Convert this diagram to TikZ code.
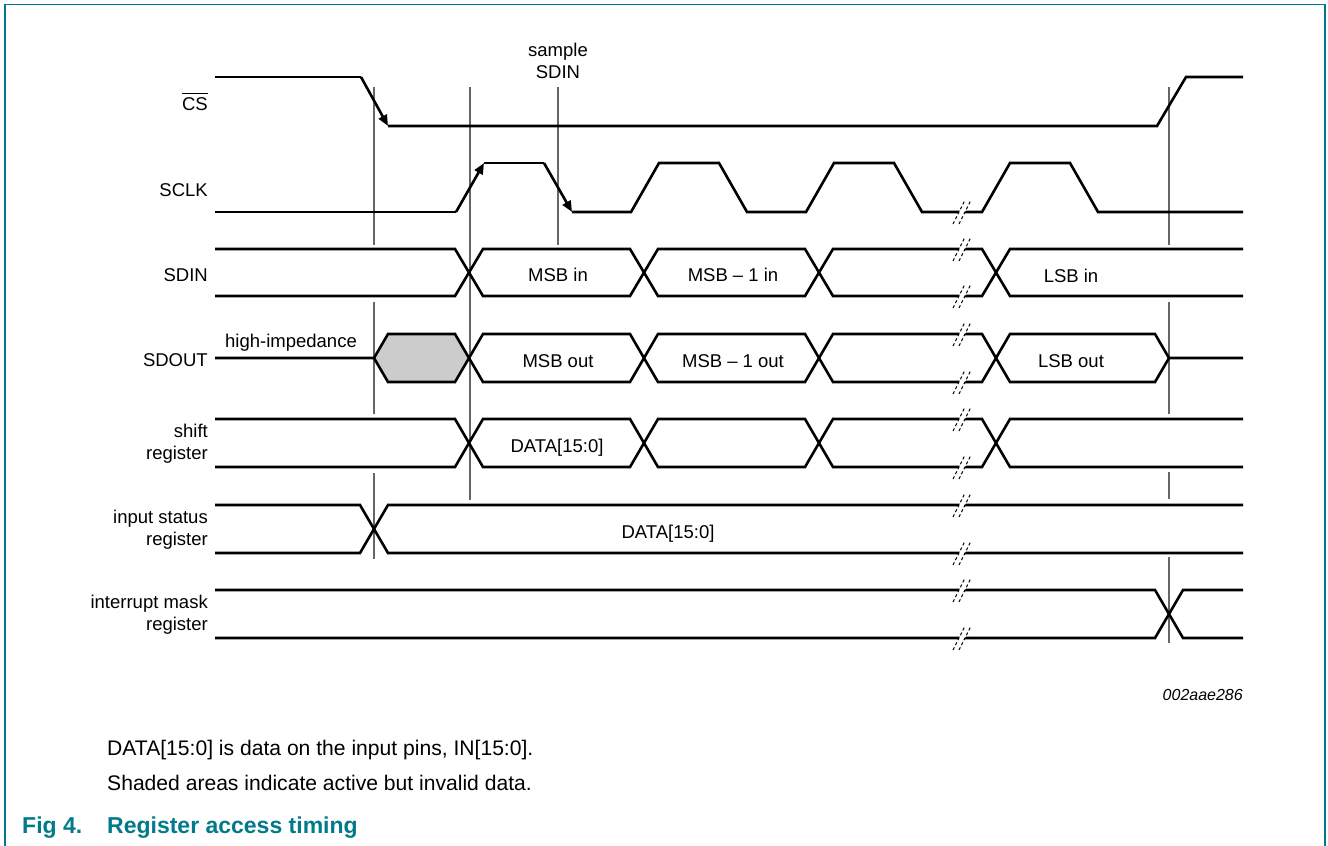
\documentclass[tikz,border=0pt]{standalone}
\usepackage{fontspec}
\setmainfont{Liberation Sans}
\usetikzlibrary{arrows.meta}
\definecolor{nxpteal}{RGB}{0,122,140}
\definecolor{hizgray}{RGB}{204,204,204}
\newcommand\lblfont{\fontsize{18.5}{22}\selectfont}
\newcommand\notefont{\fontsize{21.1}{24}\selectfont}
\newcommand\capfont{\fontsize{23}{27}\selectfont\bfseries}
\begin{document}
\begin{tikzpicture}[x=1pt,y=-1pt,
  sig/.style={line width=2.6pt, line join=miter, line cap=butt},
  guide/.style={line width=1.2pt, draw=black!60},
  arr/.style={sig, -{Triangle[length=11pt 0,width=9pt 0]}},
  lbl/.style={font=\lblfont, inner sep=0pt},
  note/.style={font=\notefont, inner sep=0pt, anchor=base west},
  capt/.style={font=\capfont, text=nxpteal, inner sep=0pt, anchor=base west},
  brk/.style={line width=1pt, dash pattern=on 3pt off 2.5pt},
]
\useasboundingbox (0,0) rectangle (1328,846);
% frame
\draw[nxpteal, line width=1.5pt] (5,846) -- (5,4.5) -- (1325,4.5) -- (1325,846);

% guide lines
\draw[guide] (374,87)--(374,245) (374,302)--(374,414) (374,473)--(374,559);
\draw[guide] (470,87)--(470,500);
\draw[guide] (558,87)--(558,245);
\draw[guide] (1169,87)--(1169,245) (1169,302)--(1169,414) (1169,472)--(1169,499) (1169,557)--(1169,643);

% CS
\draw[sig] (215,77) -- (361,77);
\draw[arr] (361,77) -- (388,126);
\draw[sig] (388,126) -- (1157,126) -- (1186,77) -- (1243,77);

% SCLK
\draw[sig] (215,212) -- (456,212);
\draw[arr] (456,212) -- (484,163);
\draw[sig] (484,163) -- (544,163);
\draw[arr] (544,163) -- (572,212);
\draw[sig] (572,212) -- (631,212) -- (659,163) -- (719,163) -- (747,212) -- (806,212)
  -- (834,163) -- (894,163) -- (922,212) -- (982,212) -- (1010,163) -- (1070,163)
  -- (1098,212) -- (1243,212);

% SDIN
\draw[sig] (215,249)--(455,249)--(483,296)--(630,296)--(658,249)--(805,249)--(833,296)--(982,296)--(1010,249)--(1243,249);
\draw[sig] (215,296)--(455,296)--(483,249)--(630,249)--(658,296)--(805,296)--(833,249)--(982,249)--(1010,296)--(1243,296);

% SDOUT
\fill[hizgray] (374,358)--(388,334)--(455,334)--(469,358)--(455,382)--(388,382)--cycle;
\draw[sig] (215,358)--(374,358)--(388,334)--(455,334)--(483,382)--(630,382)--(658,334)--(805,334)--(833,382)--(982,382)--(1010,334)--(1155,334)--(1169,358)--(1243,358);
\draw[sig] (374,358)--(388,382)--(455,382)--(483,334)--(630,334)--(658,382)--(805,382)--(833,334)--(982,334)--(1010,382)--(1155,382)--(1169,358);

% shift register
\draw[sig] (215,419)--(455,419)--(483,467)--(630,467)--(658,419)--(805,419)--(833,467)--(982,467)--(1010,419)--(1243,419);
\draw[sig] (215,467)--(455,467)--(483,419)--(630,419)--(658,467)--(805,467)--(833,419)--(982,419)--(1010,467)--(1243,467);

% input status register
\draw[sig] (215,505)--(360,505)--(388,553)--(1243,553);
\draw[sig] (215,553)--(360,553)--(388,505)--(1243,505);

% interrupt mask register
\draw[sig] (215,590)--(1155,590)--(1183,638)--(1243,638);
\draw[sig] (215,638)--(1155,638)--(1183,590)--(1243,590);

% break marks
\foreach \yy in {212,249,296,334,382,419,467,505,553,590,638}{
  \fill[white] (954,\yy+10) -- (960,\yy+10) -- (970,\yy-10) -- (964,\yy-10) -- cycle;
  \draw[brk] (953,\yy+12) -- (965,\yy-12);
  \draw[brk] (959,\yy+12) -- (971,\yy-12);
}

% signal labels
\node[lbl, anchor=base east] (lcs) at (208,110) {CS};
\draw[line width=1pt] ([yshift=3pt]lcs.north west) -- ([yshift=3pt]lcs.north east);
\node[lbl, anchor=base east] (lsclk) at (208,196) {SCLK};
\node[lbl, anchor=base east] (lsdin) at (208,281) {SDIN};
\node[lbl, anchor=base east] (lsdout) at (208,366) {SDOUT};
\node[lbl, anchor=base east] (lsh1) at (208,437) {shift};
\node[lbl, anchor=base east] (lsh2) at (208,459.5) {register};
\node[lbl, anchor=base east] (lin1) at (208,523) {input status};
\node[lbl, anchor=base east] (lin2) at (208,545.5) {register};
\node[lbl, anchor=base east] (lim1) at (208,608) {interrupt mask};
\node[lbl, anchor=base east] (lim2) at (208,630.5) {register};

% annotations
\node[lbl, anchor=base] (smp1) at (558,56) {sample};
\node[lbl, anchor=base] (smp2) at (558,78) {SDIN};
\node[lbl, anchor=base west] (hiz) at (225,347) {high-impedance};

\node[lbl, anchor=base] (d1) at (558,281.5) {MSB in};
\node[lbl, anchor=base] (d2) at (733,281.5) {MSB \textendash\ 1 in};
\node[lbl, anchor=base] (d3) at (1071,282) {LSB in};
\node[lbl, anchor=base] (o1) at (558,367) {MSB out};
\node[lbl, anchor=base] (o2) at (733,367) {MSB \textendash\ 1 out};
\node[lbl, anchor=base] (o3) at (1071,367.5) {LSB out};
\node[lbl, anchor=base] (s1) at (557,452) {DATA[15:0]};
\node[lbl, anchor=base] (i1) at (668,538) {DATA[15:0]};

\node[inner sep=0pt, anchor=base east, font=\fontsize{16}{19}\selectfont\itshape] (code) at (1243,700) {002aae286};

% notes and caption
\node[note] (n1) at (107,755) {DATA[15:0] is data on the input pins, IN[15:0].};
\node[note] (n2) at (107,790) {Shaded areas indicate active but invalid data.};
\node[capt] (c1) at (22,833) {Fig 4.};
\node[capt] (c2) at (107,833) {Register access timing};
\end{tikzpicture}
\end{document}
